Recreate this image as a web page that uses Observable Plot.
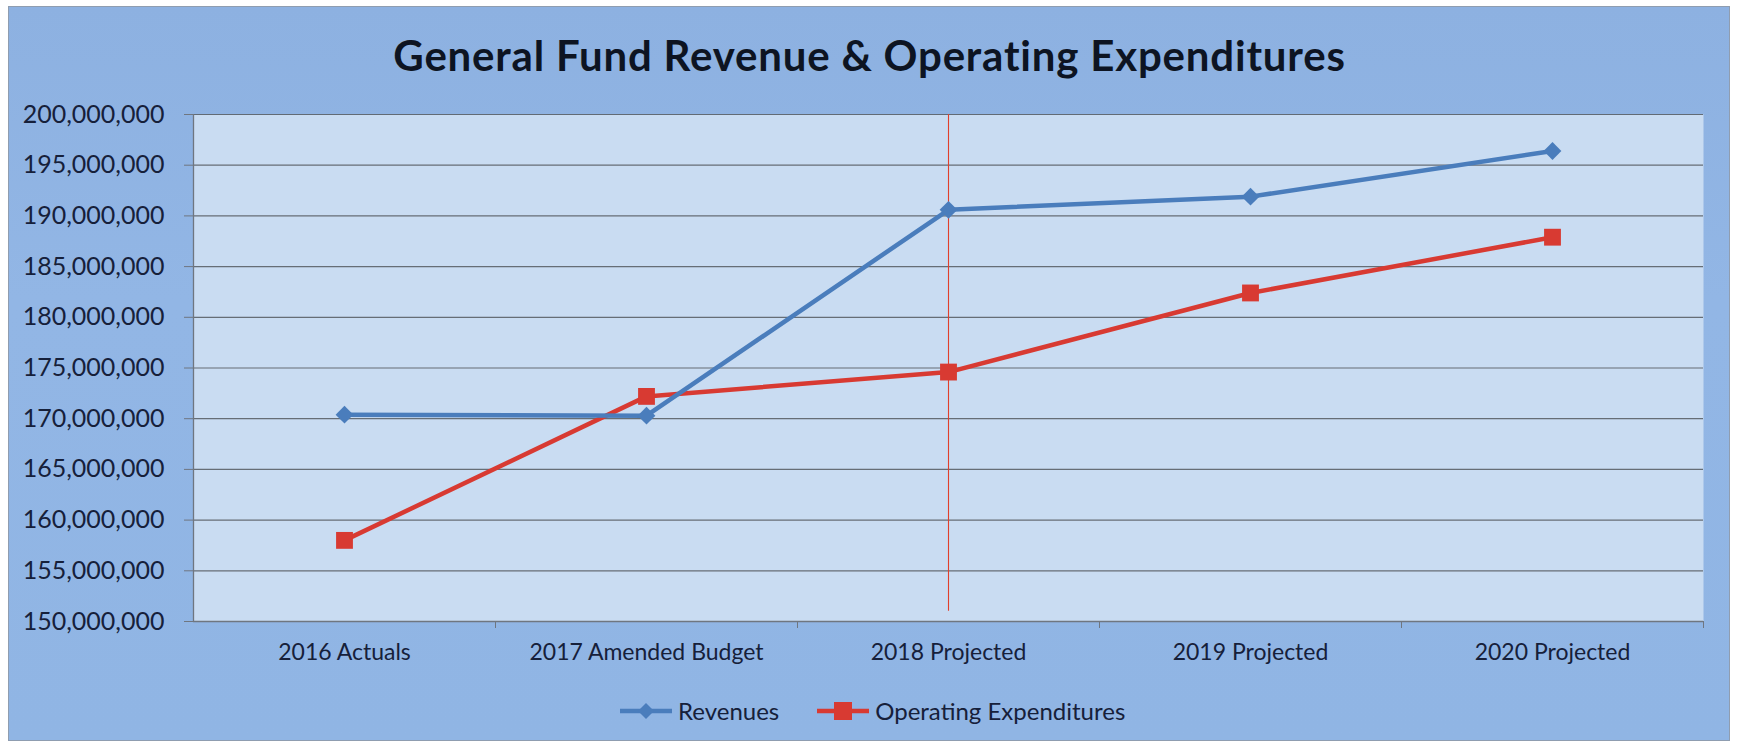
<!DOCTYPE html>
<html>
<head>
<meta charset="utf-8">
<script src="https://cdn.jsdelivr.net/npm/d3@7"></script>
<script src="https://cdn.jsdelivr.net/npm/@observablehq/plot@0.6"></script>
<style>
  html, body { margin: 0; padding: 0; background: #ffffff; }
  #page { position: relative; width: 1739px; height: 747px; overflow: hidden; font-family: Lato, "Open Sans", sans-serif; }
  #frame { position: absolute; left: 8px; top: 6px; width: 1722px; height: 735px;
    background: linear-gradient(180deg, #8db1e1 0%, #92b6e5 40%, #90b5e4 100%);
    border: 1px solid #8f9db0; box-sizing: border-box; }
  #title { position: absolute; left: 0; width: 1739px; top: 30px; text-align: center;
    font-size: 42px; font-weight: 700; color: #0d1422; letter-spacing: 0.8px; }
  #chart { position: absolute; left: 0; top: 90px; }
  #legend { position: absolute; top: 696px; left: 618px; display: flex; align-items: center;
    font-size: 24px; color: #16203a; }
  .item { display: flex; align-items: center; margin-right: 36px; }
  .item svg { margin-right: 4px; }
</style>
</head>
<body>
<div id="page">
  <div id="frame"></div>
  <div id="title"></div>
  <div id="chart"></div>
  <div id="legend"></div>
</div>
<script>
const titleText = "General Fund Revenue & Operating Expenditures";
const categories = ["2016 Actuals", "2017 Amended Budget", "2018 Projected", "2019 Projected", "2020 Projected"];
const revenues = [170400000, 170300000, 190600000, 191900000, 196400000];
const expenditures = [158000000, 172200000, 174600000, 182400000, 187900000];
const seriesNames = ["Revenues", "Operating Expenditures"];
const yTicks = [150000000, 155000000, 160000000, 165000000, 170000000, 175000000, 180000000, 185000000, 190000000, 195000000, 200000000];
const dividerCategory = "2018 Projected";
const dividerRange = [151000000, 200000000];

const revColor = "#4a7dbc";
const expColor = "#d83a32";

document.getElementById("title").textContent = titleText;

const rows = categories.map((c, i) => ({i, cat: c, revenue: revenues[i], expenditure: expenditures[i]}));
const idx = categories.map((c, i) => i);
const boundaries = idx.slice(1).map(i => i - 0.5);
const divIdx = categories.indexOf(dividerCategory);

const chart = Plot.plot({
  width: 1739,
  height: 590,
  marginLeft: 193,
  marginRight: 36,
  marginTop: 24,
  marginBottom: 59,
  style: {background: "transparent", fontFamily: "Lato, 'Open Sans', sans-serif", fontSize: "23px", color: "#16203a", overflow: "visible"},
  x: {type: "linear", domain: [-0.5, categories.length - 0.5]},
  y: {domain: [yTicks[0], yTicks[yTicks.length - 1]]},
  marks: [
    Plot.frame({fill: "#c9dcf2", stroke: null}),
    Plot.gridY(yTicks, {stroke: "#555a60", strokeOpacity: 0.85, strokeWidth: 1.2}),
    Plot.ruleX([divIdx], {y1: dividerRange[0], y2: dividerRange[1], stroke: "#e0402c", strokeWidth: 1.1}),
    Plot.ruleX([-0.5], {stroke: "#6f7680", strokeWidth: 1.3}),
    Plot.ruleY([yTicks[0]], {stroke: "#6f7680", strokeWidth: 1.5}),
    Plot.axisY(yTicks, {tickSize: 9, tickPadding: 20, fontSize: 25, tickFormat: d3.format(","), stroke: "#6f7680", label: null}),
    Plot.axisX(boundaries.concat([categories.length - 0.5]), {tickSize: 7, tickFormat: () => "", stroke: "#6f7680", label: null}),
    Plot.axisX(idx, {tickSize: 0, tickPadding: 22, fontSize: 23, tickFormat: i => categories[i], label: null}),
    Plot.line(rows, {x: "i", y: "expenditure", stroke: expColor, strokeWidth: 4.5}),
    Plot.line(rows, {x: "i", y: "revenue", stroke: revColor, strokeWidth: 4.5}),
    Plot.dot(rows, {x: "i", y: "revenue", symbol: "diamond2", r: 8, fill: revColor, stroke: null}),
    Plot.dot(rows, {x: "i", y: "expenditure", symbol: "square", r: 9.5, fill: expColor, stroke: null})
  ]
});
document.getElementById("chart").appendChild(chart);

const legend = document.getElementById("legend");
const legendDefs = [
  {name: seriesNames[0], color: revColor, marker: "diamond"},
  {name: seriesNames[1], color: expColor, marker: "square"}
];
legendDefs.forEach(d => {
  const item = document.createElement("div");
  item.className = "item";
  const ns = "http://www.w3.org/2000/svg";
  const s = document.createElementNS(ns, "svg");
  s.setAttribute("width", 56); s.setAttribute("height", 24);
  const ln = document.createElementNS(ns, "line");
  ln.setAttribute("x1", 2); ln.setAttribute("x2", 54); ln.setAttribute("y1", 12); ln.setAttribute("y2", 12);
  ln.setAttribute("stroke", d.color); ln.setAttribute("stroke-width", 4.5);
  s.appendChild(ln);
  const m = document.createElementNS(ns, "path");
  m.setAttribute("d", d.marker === "diamond" ? "M28,4 L36,12 L28,20 L20,12 Z" : "M19,3 H37 V21 H19 Z");
  m.setAttribute("fill", d.color);
  s.appendChild(m);
  item.appendChild(s);
  const t = document.createElement("span");
  t.textContent = d.name;
  item.appendChild(t);
  legend.appendChild(item);
});
</script>
</body>
</html>
